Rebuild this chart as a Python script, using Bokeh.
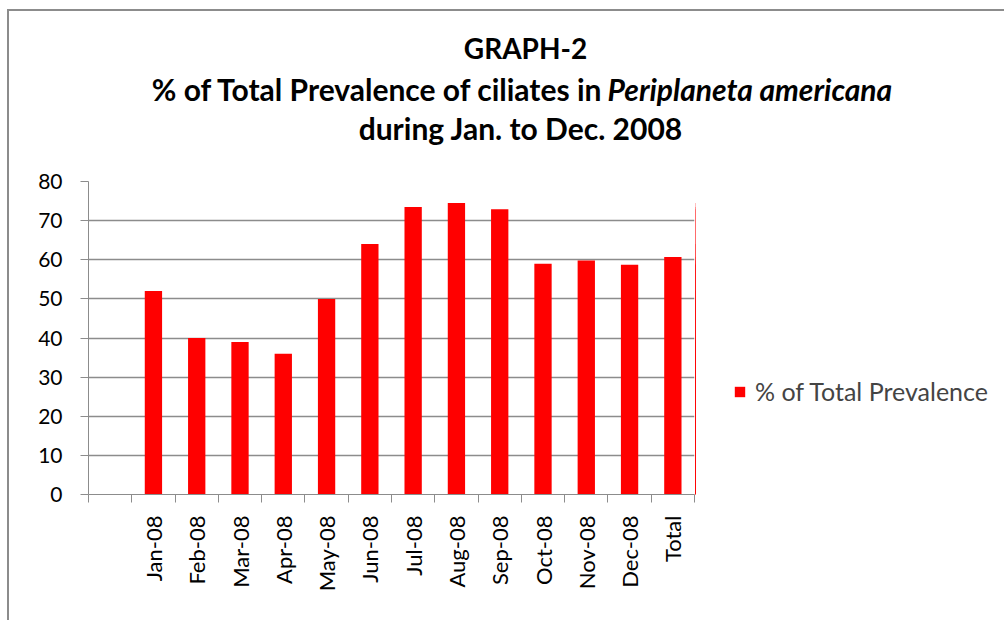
from bokeh.plotting import figure
from bokeh.models import Range1d, FixedTicker, Label, Legend, LegendItem, ColumnDataSource
from bokeh.layouts import row, column
from bokeh.embed import file_html
from bokeh.resources import INLINE
import math

categories = ["Jan-08", "Feb-08", "Mar-08", "Apr-08", "May-08", "Jun-08",
              "Jul-08", "Aug-08", "Sep-08", "Oct-08", "Nov-08", "Dec-08", "Total"]
prevalence = [52, 40, 39, 36, 50, 64, 73.5, 74.5, 72.9, 59, 59.8, 58.7, 60.7]
y_ticks = [0, 10, 20, 30, 40, 50, 60, 70, 80]
series_name = "% of Total Prevalence"

GRAY = "#8c8c8c"
FONT = "Lato"
RED = "#ff0000"

xs = list(range(len(categories)))
src = ColumnDataSource(dict(x=xs, top=prevalence, cat=categories))

# ---- title strip -------------------------------------------------------
t = figure(width=995, height=158, output_backend="svg", toolbar_location=None,
           x_range=Range1d(0, 1), y_range=Range1d(0, 1),
           x_axis_location=None, y_axis_location=None,
           min_border_left=0, min_border_right=0, min_border_top=0, min_border_bottom=0)
t.outline_line_color = None
t.xgrid.visible = False
t.ygrid.visible = False

def tl(text, x, y, align="center", style="bold", size="30px"):
    t.add_layout(Label(x=x, y=y, x_units="canvas", y_units="canvas", text=text,
                       text_align=align, text_baseline="middle", text_font=FONT,
                       text_font_style=style, text_font_size=size, text_color="black"),
                 "above")

tl("GRAPH-2", 516, 36, size="28px")
tl("% of Total Prevalence of ciliates in", 594, 77, align="right")
tl("Periplaneta americana", 598, 77, align="left", style="bold italic")
tl("during  Jan. to Dec. 2008", 515, 116)

# ---- bar chart ---------------------------------------------------------
H = 451
p = figure(width=686, height=H, output_backend="svg", toolbar_location=None,
           x_range=Range1d(-1.5, len(categories) - 0.5), y_range=Range1d(0, 80),
           min_border_left=79, min_border_right=1, min_border_top=12, min_border_bottom=126)
p.outline_line_color = None
p.background_fill_color = "white"
p.border_fill_color = "white"

r = p.vbar(x="x", top="top", width=0.4, source=src, fill_color=RED, line_color=None)

xa = p.xaxis[0]
boundaries = [i - 0.5 for i in range(-1, len(categories) + 1)]
xa.ticker = FixedTicker(ticks=xs, minor_ticks=boundaries)
xa.major_label_overrides = {i: c for i, c in zip(xs, categories)}
xa.major_tick_line_color = None
xa.minor_tick_in = 0
xa.minor_tick_out = 8
xa.minor_tick_line_color = GRAY
xa.axis_line_color = GRAY
xa.major_label_orientation = math.pi / 2
xa.major_label_text_font = FONT
xa.major_label_text_font_size = "22px"
xa.major_label_text_color = "black"
xa.major_label_standoff = 13

ya = p.yaxis[0]
ya.ticker = FixedTicker(ticks=y_ticks)
ya.major_tick_in = 0
ya.major_tick_out = 8
ya.major_tick_line_color = GRAY
ya.minor_tick_line_color = None
ya.axis_line_color = GRAY
ya.major_label_text_font = FONT
ya.major_label_text_font_size = "21px"
ya.major_label_text_color = "black"
ya.major_label_standoff = 18

p.xgrid.grid_line_color = None
p.ygrid.grid_line_color = GRAY
p.ygrid.grid_line_width = 1.5
p.ygrid.ticker = FixedTicker(ticks=y_ticks)

# ---- legend panel ------------------------------------------------------
q = figure(width=309, height=H, output_backend="svg", toolbar_location=None,
           x_range=Range1d(100, 101), y_range=Range1d(0, 80),
           x_axis_location=None, y_axis_location=None,
           min_border_left=0, min_border_right=0, min_border_top=12, min_border_bottom=126)
q.outline_line_color = None
q.xgrid.visible = False
q.ygrid.visible = False
q.background_fill_color = "white"
q.border_fill_color = "white"
r2 = q.vbar(x="x", top="top", width=0.4, source=src, fill_color=RED, line_color=None)

legend = Legend(items=[LegendItem(label=series_name, renderers=[r2])],
                location=(38, 88), orientation="vertical",
                glyph_width=13, glyph_height=13, label_standoff=9,
                label_text_font=FONT, label_text_font_size="25px",
                padding=0, margin=0, border_line_color=None,
                background_fill_alpha=0)
q.add_layout(legend, "center")

layout = column(t, row(p, q, spacing=0), spacing=0)
layout.styles = {"margin-left": "7px", "margin-top": "9px",
                 "border-left": "2px solid #8c8c8c", "border-top": "2px solid #8c8c8c"}

open("out.html", "w").write(file_html(layout, INLINE))
